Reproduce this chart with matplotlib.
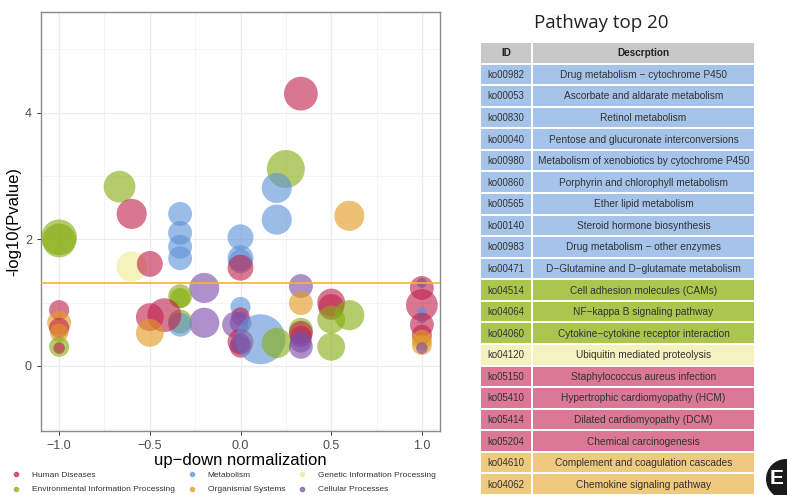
import numpy as np
import matplotlib
matplotlib.use('Agg')
import matplotlib.pyplot as plt
from matplotlib.lines import Line2D
from matplotlib.patches import Rectangle, Ellipse

plt.rcParams['font.family'] = ['Liberation Sans', 'DejaVu Sans']

# bubble data: x = up-down normalization, y = -log10(P), count = gene count, cat = KEGG class
bubble_x = [0.333, 0.25, 0.2, 0.2, 0.6, -0.667, -0.6, -0.333, -0.333, -0.333, -0.333,
            0.0, 0.0, 0.0, 0.0, -1.0, -1.0, -0.6, -0.5, -0.2, -0.333, -0.333, -0.2,
            -0.333, -0.333, -0.42, -0.5, -0.5, -1.0, -1.0, -1.0, -1.0, -1.0, -1.0,
            0.0, 0.0, -0.03, 0.0, 0.0, 0.0, 0.11, 0.2, 0.333, 0.333, 0.333, 0.333,
            0.333, 0.333, 0.333, 0.5, 0.5, 0.5, 0.5, 0.6, 1.0, 1.0, 1.0, 1.0, 1.0,
            1.0, 1.0, 1.0, 1.0, 1.0, 0.0]
bubble_y = [4.30, 3.11, 2.81, 2.31, 2.37, 2.83, 2.40, 2.40, 2.10, 1.88, 1.70,
            2.03, 1.70, 1.65, 1.55, 2.03, 1.98, 1.57, 1.61, 1.23, 1.10, 1.07, 0.68,
            0.70, 0.65, 0.80, 0.77, 0.52, 0.88, 0.68, 0.60, 0.52, 0.30, 0.28,
            0.93, 0.78, 0.65, 0.68, 0.38, 0.30, 0.42, 0.36, 1.26, 0.99, 0.57, 0.52,
            0.46, 0.38, 0.30, 1.00, 0.93, 0.73, 0.30, 0.80, 1.23, 1.31, 0.96, 0.85, 0.75,
            0.65, 0.49, 0.41, 0.33, 0.28, 0.35]
bubble_count = [34, 43, 27, 27, 27, 30, 27, 17, 17, 17, 17,
                20, 20, 17, 20, 38, 34, 27, 20, 27, 17, 12, 27,
                17, 17, 34, 23, 23, 12, 17, 12, 10, 12, 4,
                12, 10, 20, 14, 20, 14, 74, 27, 17, 17, 17, 17,
                14, 14, 17, 23, 20, 23, 23, 27, 17, 3, 30, 3, 3,
                17, 12, 12, 12, 4, 12]
bubble_cat = ['HD', 'EIP', 'MET', 'MET', 'OS', 'EIP', 'HD', 'MET', 'MET', 'MET', 'MET',
              'MET', 'MET', 'MET', 'HD', 'EIP', 'EIP', 'GIP', 'HD', 'CP', 'EIP', 'EIP', 'CP',
              'EIP', 'MET', 'HD', 'HD', 'OS', 'HD', 'OS', 'HD', 'OS', 'EIP', 'HD',
              'MET', 'HD', 'CP', 'CP', 'HD', 'HD', 'MET', 'EIP', 'CP', 'OS', 'EIP', 'HD',
              'HD', 'CP', 'CP', 'HD', 'HD', 'EIP', 'EIP', 'EIP', 'HD', 'CP', 'HD', 'MET', 'MET',
              'HD', 'HD', 'OS', 'OS', 'CP', 'CP']

cat_names = {'HD': 'Human Diseases', 'EIP': 'Environmental Information Processing',
             'MET': 'Metabolism', 'OS': 'Organismal Systems',
             'GIP': 'Genetic Information Processing', 'CP': 'Cellular Processes'}
cat_colors = {'HD': '#C0234F', 'EIP': '#86AE10', 'MET': '#5E93D8', 'OS': '#E29B20',
              'GIP': '#F0EB93', 'CP': '#7C4EAA'}
legend_order = ['HD', 'EIP', 'MET', 'OS', 'GIP', 'CP']

# top 20 pathway table
table_ids = ['ko00982', 'ko00053', 'ko00830', 'ko00040', 'ko00980', 'ko00860', 'ko00565',
             'ko00140', 'ko00983', 'ko00471', 'ko04514', 'ko04064', 'ko04060', 'ko04120',
             'ko05150', 'ko05410', 'ko05414', 'ko05204', 'ko04610', 'ko04062']
table_desc = ['Drug metabolism \u2212 cytochrome P450', 'Ascorbate and aldarate metabolism',
              'Retinol metabolism', 'Pentose and glucuronate interconversions',
              'Metabolism of xenobiotics by cytochrome P450', 'Porphyrin and chlorophyll metabolism',
              'Ether lipid metabolism', 'Steroid hormone biosynthesis',
              'Drug metabolism \u2212 other enzymes', 'D\u2212Glutamine and D\u2212glutamate metabolism',
              'Cell adhesion molecules (CAMs)', 'NF\u2212kappa B signaling pathway',
              'Cytokine\u2212cytokine receptor interaction', 'Ubiquitin mediated proteolysis',
              'Staphylococcus aureus infection', 'Hypertrophic cardiomyopathy (HCM)',
              'Dilated cardiomyopathy (DCM)', 'Chemical carcinogenesis',
              'Complement and coagulation cascades', 'Chemokine signaling pathway']
table_cat = ['MET'] * 10 + ['EIP'] * 3 + ['GIP'] + ['HD'] * 4 + ['OS'] * 2
row_colors = {'MET': '#A6C4EA', 'EIP': '#AAC64E', 'GIP': '#F6F2C0', 'HD': '#DA7895',
              'OS': '#EEC97F'}

W, H = 787, 495
fig = plt.figure(figsize=(W / 100, H / 100), dpi=100)

# ---- bubble plot ----
ax = fig.add_axes([41 / W, 1 - 431 / H, (440 - 41) / W, (431 - 12) / H])
sizes = 17.4 * np.array(bubble_count)
cols = [cat_colors[c] for c in bubble_cat]
ax.scatter(bubble_x, bubble_y, s=sizes, c=cols, alpha=0.62, linewidths=0, zorder=3)
ax.axhline(-np.log10(0.05), color='#F5B335', lw=1.2, zorder=4)

ax.set_xlim(-1.1, 1.1)
ax.set_ylim(-1.03, 5.59)
ax.set_xticks([-1.0, -0.5, 0.0, 0.5, 1.0])
ax.set_xticklabels(['\u22121.0', '\u22120.5', '0.0', '0.5', '1.0'])
ax.set_yticks([0, 2, 4])
ax.set_xticks([-0.75, -0.25, 0.25, 0.75], minor=True)
ax.set_yticks([-1, 1, 3, 5], minor=True)
ax.grid(which='major', color='#EBEBEB', lw=0.9, zorder=0)
ax.grid(which='minor', color='#F2F2F2', lw=0.6, zorder=0)
ax.tick_params(which='major', labelsize=9, labelcolor='#4D4D4D', color='#333333',
               length=3, width=0.7)
ax.tick_params(which='minor', length=0)
for sp in ax.spines.values():
    sp.set_color('#8A8A8A')
    sp.set_linewidth(1.0)
ax.set_axisbelow(True)
ax.set_xlabel('up\u2212down normalization', fontsize=12, labelpad=1)
ax.set_ylabel('-log10(Pvalue)', fontsize=12, labelpad=3)

handles = [Line2D([], [], ls='', marker='o', ms=3.0, color=cat_colors[c], alpha=0.7)
           for c in legend_order]
labels = [cat_names[c] for c in legend_order]
fig.legend(handles, labels, ncol=3, loc='lower left', bbox_to_anchor=(0.004, -0.012),
           frameon=False, fontsize=6.0, handletextpad=1.2, columnspacing=1.3,
           labelspacing=0.75, handlelength=1.4, labelcolor='#333333')

# ---- table ----
fig.text(601 / W, 1 - 23 / H, 'Pathway top 20', fontsize=13.5, family='Open Sans',
         color='#222222', ha='center', va='center')

tx = fig.add_axes([480 / W, 0, (755 - 480) / W, (495 - 42) / H])
tx.set_xlim(0, 275)
n_rows = len(table_ids) + 1
tx.set_ylim(n_rows, 0)
tx.axis('off')
id_w = 52
tx.add_patch(Rectangle((0, 0), id_w, 1, fc='#C8C8C8', ec='white', lw=1.4))
tx.add_patch(Rectangle((id_w, 0), 275 - id_w, 1, fc='#C8C8C8', ec='white', lw=1.4))
tx.text(id_w / 2, 0.5, 'ID', ha='center', va='center', fontsize=7.2, weight='bold',
        color='#222222')
tx.text(id_w + (275 - id_w) / 2, 0.5, 'Descrption', ha='center', va='center', fontsize=7.2,
        weight='bold', color='#222222')
for i, (kid, desc, cat) in enumerate(zip(table_ids, table_desc, table_cat)):
    r = i + 1
    fc = row_colors[cat]
    tx.add_patch(Rectangle((0, r), id_w, 1, fc=fc, ec='white', lw=1.4))
    tx.add_patch(Rectangle((id_w, r), 275 - id_w, 1, fc=fc, ec='white', lw=1.4))
    tx.text(id_w / 2, r + 0.52, kid, ha='center', va='center', fontsize=6.9, color='#333333')
    tx.text(id_w + (275 - id_w) / 2, r + 0.52, desc, ha='center', va='center', fontsize=7.3,
            color='#333333')

# panel letter: black disc running off the right edge, letter kept inside
fig.patches.append(Ellipse((786 / W, 1 - 479 / H), 40 / W, 40 / H, fc='#1A1A1A', ec='none',
                           transform=fig.transFigure, figure=fig))
fig.text(777 / W, 1 - 479 / H, 'E', fontsize=15, weight='bold', color='white',
         ha='center', va='center')

fig.savefig('out.png', dpi=100)
